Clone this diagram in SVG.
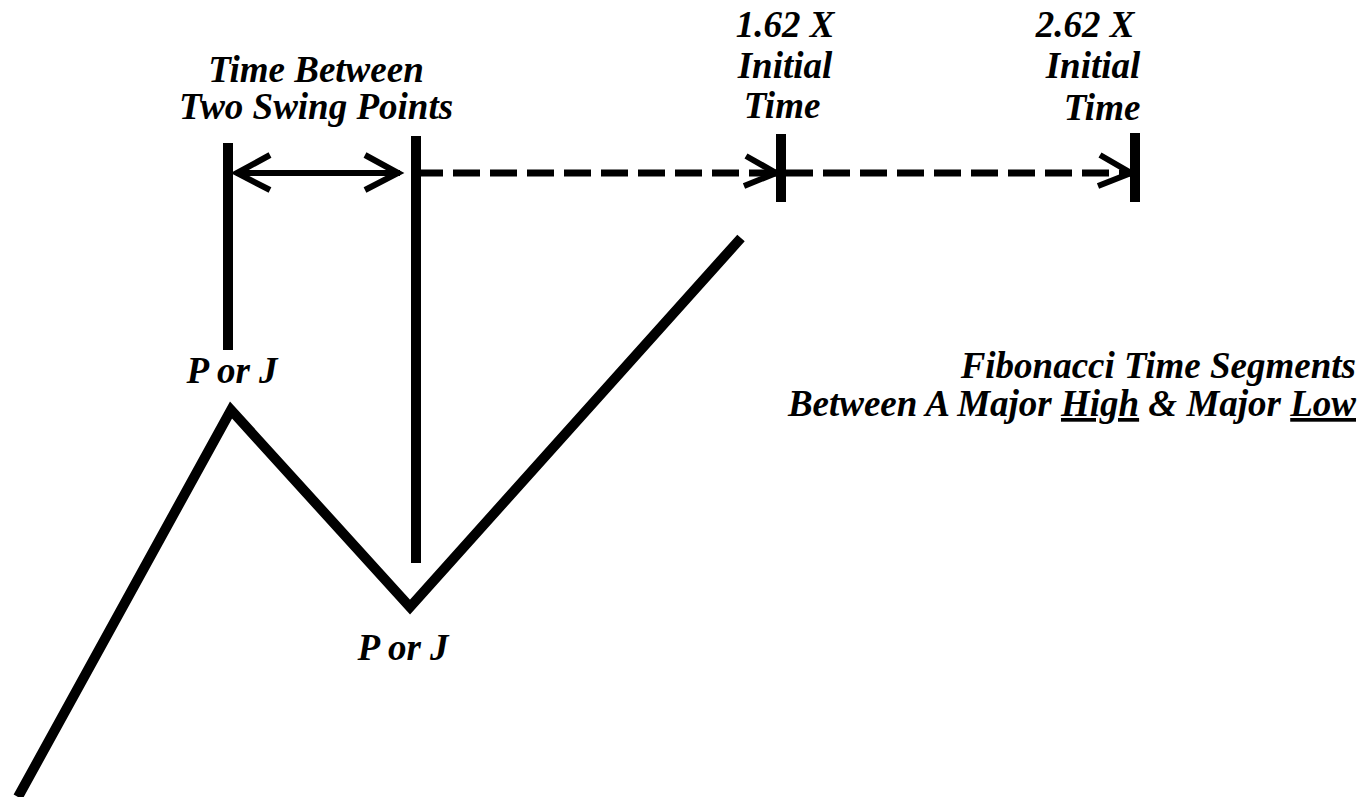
<svg xmlns="http://www.w3.org/2000/svg" width="1372" height="797" viewBox="0 0 1372 797">
<style>
text{font-family:"Liberation Serif","Times New Roman",serif;font-weight:bold;font-style:italic;font-size:37px;fill:#000}
.bar{stroke:#000;stroke-width:10;fill:none}
.arr{stroke:#000;stroke-width:6;fill:none}
.dash{stroke:#000;stroke-width:7;fill:none;stroke-dasharray:27 10}
.u{text-decoration:underline}
</style>
<rect width="1372" height="797" fill="#fff"/>
<g id="connectors">
<polyline class="bar" points="18,797 231,410 410,607 741,238" stroke-width="11" stroke-linejoin="miter"/>
<line class="arr" x1="236" y1="173" x2="400" y2="173"/>
<polyline class="arr" points="270,155 237,173 270,190"/>
<polyline class="arr" points="365,155 398,173 365,190"/>
<line class="dash" x1="416" y1="173" x2="1130" y2="173"/>
<polyline class="arr" points="746,156 776,173 744,186"/>
<polyline class="arr" points="1100,155 1131,173 1098,186"/>
</g>
<g id="bar1"><line class="bar" x1="228" y1="143" x2="228" y2="350"/></g>
<g id="bar2"><line class="bar" x1="416" y1="136" x2="416" y2="563"/></g>
<g id="bar3"><line class="bar" x1="781" y1="134" x2="781" y2="202"/></g>
<g id="bar4"><line class="bar" x1="1135" y1="133" x2="1135" y2="202"/></g>
<g id="label-time-between" text-anchor="middle">
<text x="316" y="82">Time Between</text>
<text x="316" y="119">Two Swing Points</text>
</g>
<g id="label-162" text-anchor="middle">
<text x="785" y="37">1.62 X</text>
<text x="785" y="78">Initial</text>
<text x="782" y="118">Time</text>
</g>
<g id="label-262" text-anchor="middle">
<text x="1085" y="37">2.62 X</text>
<text x="1093" y="78">Initial</text>
<text x="1102" y="120">Time</text>
</g>
<g id="label-pj-top" text-anchor="middle"><text x="232" y="383">P or J</text></g>
<g id="label-pj-bottom" text-anchor="middle"><text x="403" y="660">P or J</text></g>
<g id="label-fib" text-anchor="end">
<text x="1356" y="378">Fibonacci Time Segments</text>
<text x="1356" y="416">Between A Major <tspan class="u">High</tspan> &amp; Major <tspan class="u">Low</tspan></text>
</g>
</svg>
